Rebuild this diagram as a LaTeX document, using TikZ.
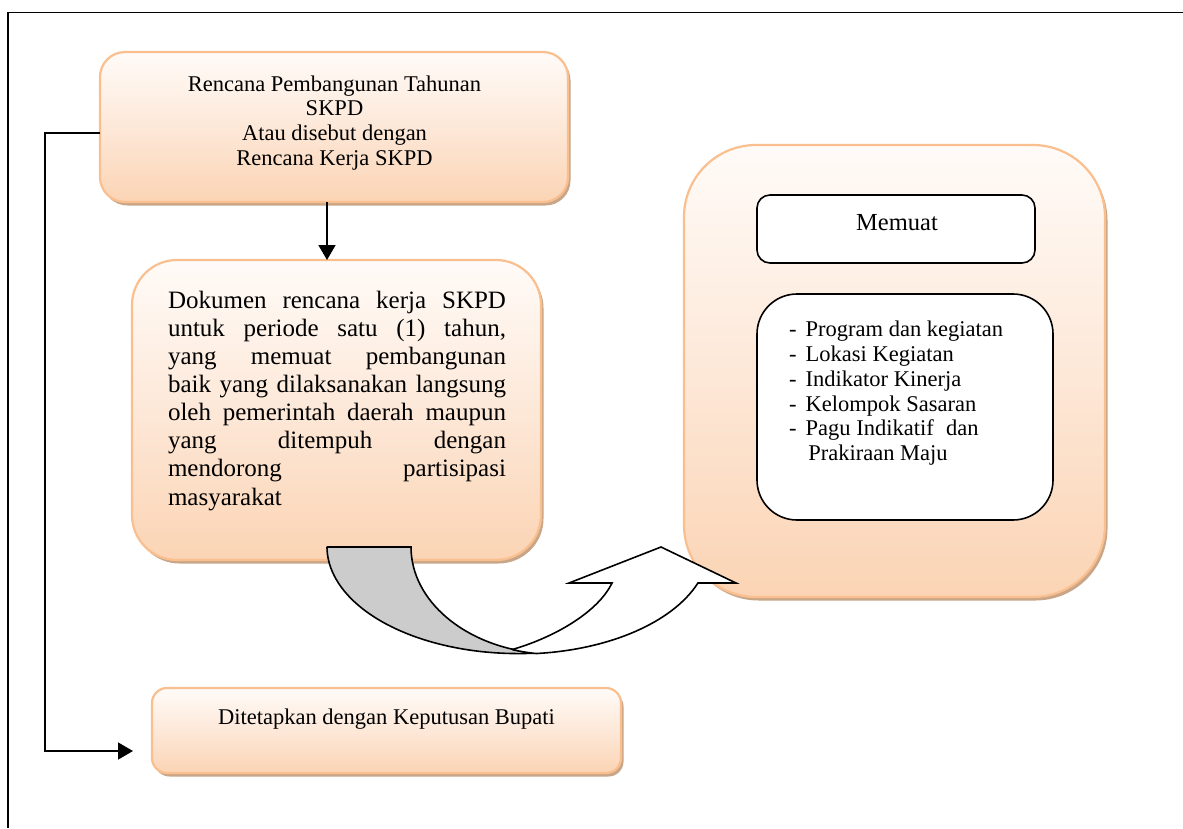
\documentclass[tikz,border=0pt]{standalone}
\usepackage{fontspec}
\setmainfont{Liberation Serif}
\usetikzlibrary{arrows.meta,shadows}
\definecolor{peachB}{RGB}{250,191,143}
\definecolor{peachT}{RGB}{255,251,248}
\definecolor{peachM}{RGB}{253,232,216}
\definecolor{peachD}{RGB}{251,212,180}
\definecolor{shadowc}{RGB}{201,166,136}
\definecolor{grayfill}{RGB}{204,204,204}
\begin{document}
\begin{tikzpicture}[x=1pt,y=1pt,
  peachbox/.style={draw=peachB, line width=2.2pt, top color=peachT, bottom color=peachD, middle color=peachM,
    inner sep=0pt, outer sep=0pt, general shadow={fill=shadowc, draw=none, shadow xshift=2.5pt, shadow yshift=-3.5pt}},
  whitebox/.style={draw=black, line width=1.6pt, fill=white, inner sep=0pt, outer sep=0pt},
  conn/.style={draw=black, line width=1.6pt, -{Triangle[length=15pt,width=17pt]}},
  bigarrow/.style={draw=black, line width=1.6pt, line join=miter},
  txt/.style={inner sep=0pt, outer sep=0pt, font=\fontsize{22.5}{24.7}\selectfont},
  midtxt/.style={inner sep=0pt, outer sep=0pt, font=\fontsize{25}{28}\selectfont},
  frame/.style={draw=black, line width=1.5pt}
]
\useasboundingbox (0,0) rectangle (1183,-828);
\fill[white] (0,0) rectangle (1183,-828);

% frame
\coordinate (frTR) at (1183,-12.5);
\coordinate (frTL) at (8,-12.5);
\coordinate (frBL) at (8,-828);
\draw[frame] (frTR) -- (frTL) -- (frBL);

% boxes
\node[peachbox, rounded corners=25pt, minimum width=468pt, minimum height=150pt] (top) at (334,-127) {};
\node[peachbox, rounded corners=45pt, minimum width=409pt, minimum height=300pt] (mid) at (336.5,-410) {};
\node[peachbox, rounded corners=72pt, minimum width=421pt, minimum height=452pt] (right) at (894.5,-371) {};
\node[whitebox, rounded corners=13pt, minimum width=278pt, minimum height=68pt] (memuat) at (896,-229) {};
\node[whitebox, rounded corners=40pt, minimum width=296pt, minimum height=226pt] (list) at (905,-407) {};
\node[peachbox, rounded corners=15pt, minimum width=469pt, minimum height=85pt] (bottom) at (386.5,-730.5) {};

% connectors
\draw[conn] ([xshift=-7pt]top.south) -- ([xshift=-7pt]top.south |- mid.north);
\coordinate (lc) at (45,-751);
\coordinate (ltip) at (133,-751);
\draw[conn] ([yshift=-6pt]top.west) -| (lc) -- (ltip);

% curved up arrow
\filldraw[bigarrow, fill=grayfill] (327,-547) -- (411,-547)
  arc[start angle=180, end angle=262.45, x radius=144, y radius=107]
  arc[start angle=275.44, end angle=180, x radius=191, y radius=107] -- cycle;
\filldraw[bigarrow, fill=white] (513,-649.3) .. controls (555,-637) and (598,-612) .. (612,-583)
  -- (569,-583) -- (661,-547) -- (736,-583) -- (697.9,-583)
  arc[start angle=340.34, end angle=275.44, x radius=191, y radius=107]
  arc[start angle=262.45, end angle=253.04, x radius=144, y radius=107] -- cycle;

% texts: top box
\foreach \s [count=\i] in {Rencana Pembangunan Tahunan, SKPD, Atau disebut dengan, Rencana Kerja SKPD}
  \node[txt, anchor=base] (tt\i) at (334.5,{-91-24.8*(\i-1)}) {\s};

% texts: middle box
\foreach \s [count=\i] in {Dokumen rencana kerja SKPD, {untuk periode satu (1) tahun,}, yang memuat pembangunan,
  baik yang dilaksanakan langsung, oleh pemerintah daerah maupun, yang ditempuh dengan, mendorong partisipasi}
  \node[midtxt, anchor=base west] (mt\i) at (168,{-308.3-28.1*(\i-1)}) {\makebox[338pt][s]{\s}};
\node[midtxt, anchor=base west] (mt8) at (168,-505) {masyarakat};

% texts: right box
\node[txt, font=\fontsize{24.5}{28}\selectfont, anchor=base] (memt) at (897,-230.7) {Memuat};
\foreach \s [count=\i] in {Program dan kegiatan, Lokasi Kegiatan, Indikator Kinerja, Kelompok Sasaran, {Pagu Indikatif\hspace{0.3em} dan}}
{
  \node[txt, anchor=base west] (ld\i) at (789,{-336.7-24.8*(\i-1)}) {-};
  \node[txt, anchor=base west] (li\i) at (805.7,{-336.7-24.8*(\i-1)}) {\s};
}
\node[txt, anchor=base west] (li6) at (808.3,-460.7) {Prakiraan Maju};

% texts: bottom box
\node[txt, anchor=base] (bt) at (386.5,-724) {Ditetapkan dengan Keputusan Bupati};
\end{tikzpicture}
\end{document}
